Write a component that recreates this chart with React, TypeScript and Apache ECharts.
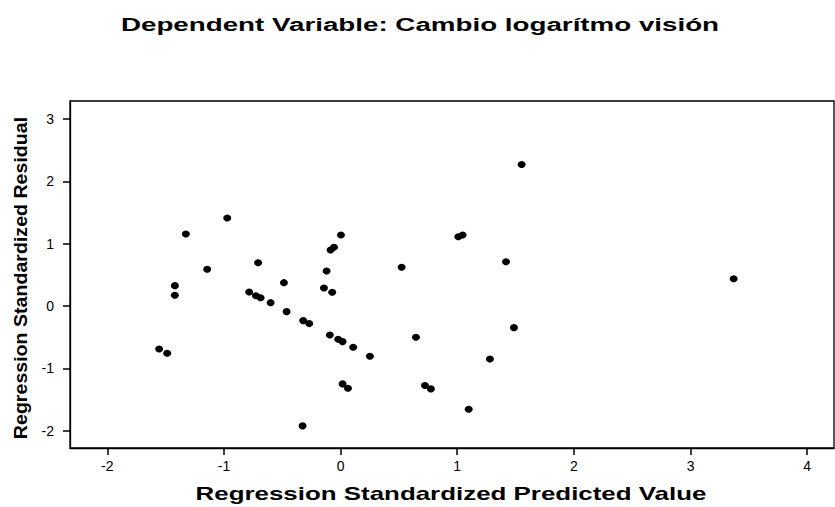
import React, { useEffect, useRef } from "react";
import * as echarts from "echarts";

const titleText = "Dependent Variable: Cambio logarítmo visión";
const xTitle = "Regression Standardized Predicted Value";
const yTitle = "Regression Standardized Residual";

const xTicks = [-2, -1, 0, 1, 2, 3, 4];
const yTicks = [-2, -1, 0, 1, 2, 3];

const predicted = [
  -1.556, -1.487, -1.421, -1.421, -1.327, -1.144, -0.972, -0.707, -0.784, -0.726,
  -0.686, -0.6, -0.486, -0.463, -0.326, -0.321, -0.269, -0.092, -0.021, 0.017,
  0.108, 0.251, 0.017, 0.063, 0.003, -0.086, -0.057, -0.12, -0.143, -0.072,
  0.523, 0.646, 1.009, 1.046, 0.723, 0.774, 1.098, 1.28, 1.418, 1.486,
  1.552, 3.37,
];
const residual = [
  -0.69, -0.76, 0.326, 0.171, 1.155, 0.588, 1.411, 0.695, 0.225, 0.165,
  0.133, 0.053, 0.374, -0.091, -1.925, -0.235, -0.283, -0.465, -0.535, -0.572,
  -0.663, -0.807, -1.251, -1.32, 1.139, 0.898, 0.941, 0.561, 0.289, 0.219,
  0.62, -0.503, 1.112, 1.139, -1.278, -1.331, -1.658, -0.85, 0.711, -0.348,
  2.272, 0.438,
];

export default function App() {
  const ref = useRef<HTMLDivElement>(null);
  useEffect(() => {
    document.body.style.margin = "0";
    if (!ref.current) return;
    const chart = echarts.init(ref.current, null, { renderer: "svg" });
    const font = "Arial, 'Liberation Sans', sans-serif";
    chart.setOption({
      animation: false,
      backgroundColor: "#fff",
      grid: {
        left: 70,
        top: 101,
        right: 1,
        bottom: 59,
        show: true,
        borderColor: "#000",
        borderWidth: 1.3,
      },
      xAxis: {
        type: "value",
        min: -2.32,
        max: 4.23,
        splitLine: { show: false },
        axisLine: { show: true, onZero: false, lineStyle: { color: "#000", width: 1.3 } },
        axisTick: {
          show: true,
          customValues: xTicks,
          length: 7,
          lineStyle: { color: "#000", width: 1.5 },
        },
        axisLabel: {
          customValues: xTicks,
          color: "#000",
          fontFamily: font,
          fontSize: 14,
          margin: 11,
        },
      },
      yAxis: {
        type: "value",
        min: -2.28,
        max: 3.29,
        splitLine: { show: false },
        axisLine: { show: true, onZero: false, lineStyle: { color: "#000", width: 1.3 } },
        axisTick: {
          show: true,
          customValues: yTicks,
          length: 7,
          lineStyle: { color: "#000", width: 1.5 },
        },
        axisLabel: {
          customValues: yTicks,
          color: "#000",
          fontFamily: font,
          fontSize: 14,
          margin: 16,
        },
      },
      graphic: [
        {
          type: "text",
          x: 420,
          y: 25,
          scaleX: 1.5,
          style: {
            text: titleText,
            font: `bold 18.5px ${font}`,
            fill: "#000",
            textAlign: "center",
            textVerticalAlign: "middle",
          },
        },
        {
          type: "text",
          x: 451,
          y: 494,
          scaleX: 1.4,
          style: {
            text: xTitle,
            font: `bold 18.5px ${font}`,
            fill: "#000",
            textAlign: "center",
            textVerticalAlign: "middle",
          },
        },
        {
          type: "text",
          x: 21,
          y: 278,
          rotation: Math.PI / 2,
          scaleX: 1.06,
          style: {
            text: yTitle,
            font: `bold 18.5px ${font}`,
            fill: "#000",
            textAlign: "center",
            textVerticalAlign: "middle",
          },
        },
      ],
      series: [
        {
          type: "scatter",
          data: predicted.map((x, i) => [x, residual[i]]),
          symbol: "circle",
          symbolSize: [8, 7],
          itemStyle: { color: "#000", opacity: 1 },
        },
      ],
    });
    return () => chart.dispose();
  }, []);
  return <div ref={ref} style={{ width: 835, height: 507 }} />;
}
